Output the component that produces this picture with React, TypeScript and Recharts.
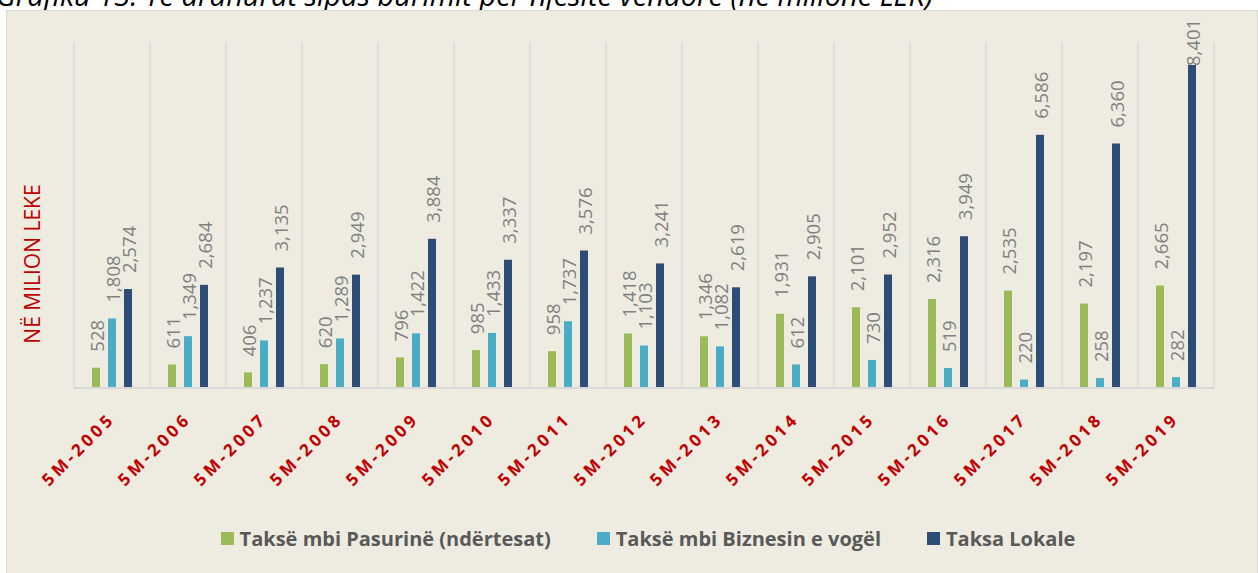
import { BarChart, Bar, XAxis, YAxis, CartesianGrid, Legend, LabelList } from "recharts";

const categories = [
  "5M-2005", "5M-2006", "5M-2007", "5M-2008", "5M-2009", "5M-2010", "5M-2011", "5M-2012",
  "5M-2013", "5M-2014", "5M-2015", "5M-2016", "5M-2017", "5M-2018", "5M-2019",
];
const pasuria = [528, 611, 406, 620, 796, 985, 958, 1418, 1346, 1931, 2101, 2316, 2535, 2197, 2665];
const biznesi = [1808, 1349, 1237, 1289, 1422, 1433, 1737, 1103, 1082, 612, 730, 519, 220, 258, 282];
const lokale = [2574, 2684, 3135, 2949, 3884, 3337, 3576, 3241, 2619, 2905, 2952, 3949, 6586, 6360, 8401];

const seriesNames = ["Taksë mbi Pasurinë (ndërtesat)", "Taksë mbi Biznesin e vogël", "Taksa Lokale"];
const colors = ["#9BBB59", "#4BACC6", "#2C4D75"];

const data = categories.map((c, i) => ({
  name: c,
  pasuria: pasuria[i],
  biznesi: biznesi[i],
  lokale: lokale[i],
}));

const font = "'Open Sans', sans-serif";

function BarValue(props: any) {
  const { x, y, width, value } = props;
  const cx = x + width / 2;
  // Excel pulls a label down when it would leave the chart area
  const start = Math.max(y - 16, 55);
  return (
    <text
      transform={`translate(${cx},${start}) rotate(-90)`}
      textAnchor="start"
      dominantBaseline="central"
      fill="#808080"
      fontSize={18.5}
      fontFamily={font}
    >
      {Number(value).toLocaleString("en-US")}
    </text>
  );
}

function CategoryTick(props: any) {
  const { x, y, payload } = props;
  return (
    <g transform={`translate(${x + 4},${y + 32})`}>
      <text
        transform="rotate(-45)"
        textAnchor="end"
        fill="#C00000"
        fontSize={17}
        fontWeight="bold"
        letterSpacing={3.5}
        fontFamily={font}
      >
        {payload.value}
      </text>
    </g>
  );
}

function LegendBox() {
  return (
    <div
      style={{
        height: 40,
        display: "flex",
        alignItems: "center",
        justifyContent: "center",
        gap: 46,
        paddingLeft: 8,
        fontFamily: font,
        fontWeight: "bold",
        fontSize: 20,
        color: "#595959",
      }}
    >
      {seriesNames.map((n, i) => (
        <div key={n} style={{ display: "flex", alignItems: "center", gap: 6 }}>
          <span style={{ width: 13, height: 13, background: colors[i], display: "inline-block" }} />
          <span>{n}</span>
        </div>
      ))}
    </div>
  );
}

export default function App() {
  return (
    <div style={{ position: "absolute", left: 0, top: 0, width: 1258, height: 573, overflow: "hidden", background: "#fff" }}>
      <div
        style={{
          position: "absolute",
          left: -4,
          top: -25,
          fontFamily: font,
          fontStyle: "italic",
          fontSize: 29,
          whiteSpace: "nowrap",
          color: "#000",
        }}
      >
        Grafiku 13: Të ardhurat sipas burimit për njësitë vendore (në milionë LEK)
      </div>
      <div
        style={{
          position: "absolute",
          left: 6,
          top: 10,
          width: 1250,
          height: 580,
          background: "#EEECE1",
          border: "1px solid #D9D9D9",
        }}
      >
        <div
          style={{
            position: "absolute",
            left: 25 - 90,
            top: 253 - 13,
            width: 180,
            height: 26,
            textAlign: "center",
            transform: "rotate(-90deg)",
            color: "#C00000",
            fontFamily: font,
            fontSize: 21,
            lineHeight: "26px",
            whiteSpace: "nowrap",
          }}
        >
          NË MILION LEKE
        </div>
        <BarChart
          width={1250}
          height={547}
          data={data}
          margin={{ top: 31, right: 43, left: 67, bottom: 0 }}
          barSize={8}
          barGap={8}
        >
          <CartesianGrid
            horizontal={false}
            stroke="#D9D9D9"
            strokeWidth={1.5}
            verticalCoordinatesGenerator={({ offset }: any) =>
              Array.from({ length: categories.length + 1 }, (_, i) => offset.left + (i * offset.width) / categories.length)
            }
          />
          <XAxis
            dataKey="name"
            tick={<CategoryTick />}
            tickLine={false}
            tickSize={0}
            tickMargin={0}
            axisLine={{ stroke: "#D9D9D9", strokeWidth: 2 }}
            height={130}
            interval={0}
          />
          <YAxis hide domain={[0, 9000]} />
          <Legend verticalAlign="bottom" height={40} content={() => <LegendBox />} />
          <Bar dataKey="pasuria" name={seriesNames[0]} fill={colors[0]} isAnimationActive={false}>
            <LabelList dataKey="pasuria" content={<BarValue />} />
          </Bar>
          <Bar dataKey="biznesi" name={seriesNames[1]} fill={colors[1]} isAnimationActive={false}>
            <LabelList dataKey="biznesi" content={<BarValue />} />
          </Bar>
          <Bar dataKey="lokale" name={seriesNames[2]} fill={colors[2]} isAnimationActive={false}>
            <LabelList dataKey="lokale" content={<BarValue />} />
          </Bar>
        </BarChart>
      </div>
    </div>
  );
}
